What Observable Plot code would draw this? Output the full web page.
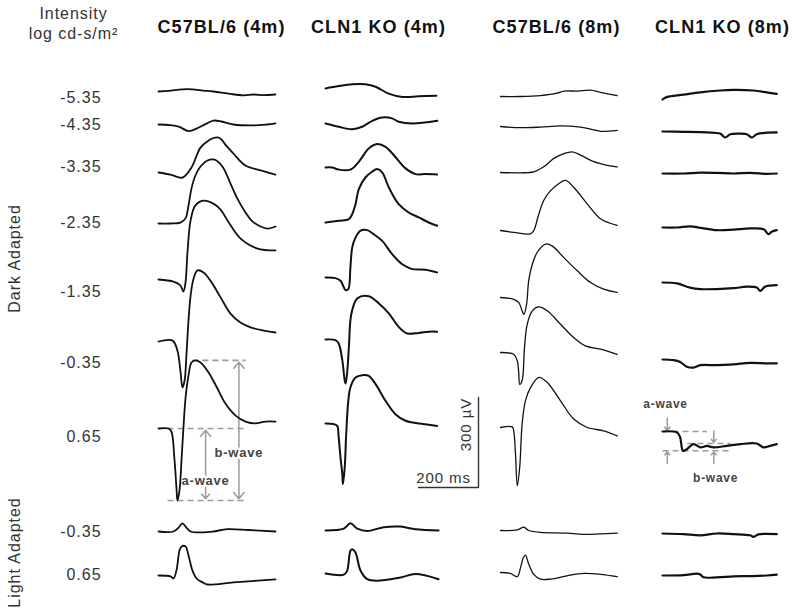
<!DOCTYPE html>
<html><head><meta charset="utf-8">
<script src="https://cdn.jsdelivr.net/npm/d3@7"></script>
<script src="https://cdn.jsdelivr.net/npm/@observablehq/plot@0.6"></script>
<style>
html,body{margin:0;padding:0;background:#fff;}
#chart svg text{letter-spacing:0.06em;}
</style></head>
<body><div id="chart"></div>
<script>
// ---------- data ----------
const groups = ["C57BL/6 (4m)", "CLN1 KO (4m)", "C57BL/6 (8m)", "CLN1 KO (8m)"];
const intensities = ["-5.35", "-4.35", "-3.35", "-2.35", "-1.35", "-0.35", "0.65", "-0.35", "0.65"];
const adaptation = ["Dark Adapted", "Light Adapted"];
const intensityTitle = ["Intensity", "log cd-s/m²"];
const scaleBarMs = 200, scaleBarUv = 300;
const scaleLabels = ["200 ms", "300 µV"];
const waveLabels = ["a-wave", "b-wave"];

// each trace: [time ms, amplitude µV relative to pre-flash baseline]
const wt4m = [
  [[0,0],[33,2],[97,8],[150,3],[183,0],[233,-7],[283,-13],[317,-10],[350,-12],[390,-10]],
  [[0,0],[40,-2],[70,-8],[100,-22],[130,-12],[160,3],[183,13],[210,10],[250,0],[317,-3],[360,0],[390,4]],
  [[0,0],[40,-7],[80,-17],[110,17],[140,83],[167,107],[183,115],[197,117],[210,110],[223,93],[250,63],[290,23],[340,7],[390,-7]],
  [[0,0],[40,0],[73,3],[90,17],[100,60],[110,117],[123,160],[140,190],[163,210],[187,213],[213,190],[240,133],[263,83],[290,37],[313,7],[340,-10],[363,-17],[390,-10]],
  [[0,0],[50,-7],[73,-20],[83,-40],[90,-10],[97,97],[107,197],[123,247],[150,263],[183,253],[207,233],[230,197],[273,137],[330,103],[390,97]],
  [[0,0],[47,3],[63,-30],[73,-97],[80,-153],[87,-130],[93,-47],[100,70],[107,153],[117,210],[130,237],[150,230],[173,203],[207,147],[240,93],[273,63],[307,47],[347,37],[390,30]],
  [[0,0],[33,0],[43,-10],[53,-100],[60,-200],[63,-240],[70,-207],[77,-100],[83,0],[90,100],[100,177],[110,220],[123,227],[140,220],[167,187],[193,140],[223,83],[257,43],[290,23],[323,17],[357,23],[390,23]],
  [[0,0],[50,0],[67,13],[80,27],[93,13],[107,0],[150,-3],[183,0],[230,8],[300,5],[390,0]],
  [[0,0],[40,-3],[50,-10],[60,17],[70,83],[77,97],[90,97],[100,67],[113,17],[127,-10],[147,-23],[163,-30],[250,-23],[390,-13]]
];
const ko4m = [
  [[0,0],[44,8],[89,14],[133,14],[167,6],[210,-17],[257,-28],[310,-26],[370,-24]],
  [[0,0],[44,-11],[89,-19],[122,-11],[156,9],[189,20],[222,17],[244,6],[289,0],[373,9]],
  [[0,0],[22,0],[44,-7],[83,-7],[111,19],[144,63],[172,78],[200,69],[228,41],[267,-3],[300,-22],[333,-22],[372,-23]],
  [[0,0],[44,6],[78,11],[89,28],[100,61],[111,111],[133,150],[156,170],[172,178],[189,167],[211,117],[244,61],[278,33],[311,17],[344,0],[372,-11]],
  [[0,0],[33,-2],[50,-11],[67,-42],[76,-39],[83,33],[89,100],[100,133],[117,156],[139,158],[161,144],[189,122],[222,78],[256,44],[289,28],[333,26],[372,17]],
  [[0,0],[33,-2],[44,-13],[56,-69],[64,-136],[67,-147],[72,-113],[78,-24],[83,64],[89,98],[106,137],[144,144],[178,120],[211,87],[244,42],[272,20],[311,22],[344,26],[372,26]],
  [[0,0],[28,-2],[39,-8],[44,-47],[50,-113],[56,-169],[58,-202],[64,-147],[69,-36],[76,76],[83,120],[100,153],[122,161],[144,159],[167,131],[200,76],[233,31],[267,9],[311,0],[344,-4],[372,-8]],
  [[0,0],[61,6],[83,24],[106,6],[139,-2],[194,11],[250,13],[300,4],[377,0]],
  [[0,0],[61,-4],[72,9],[83,76],[89,81],[100,70],[117,9],[139,-19],[172,-24],[250,-13],[300,-2],[377,-19]]
];
const wt8m = [
  [[0,0],[67,0],[133,3],[189,11],[211,18],[256,18],[300,21],[333,14],[389,3]],
  [[0,0],[67,-4],[133,-2],[200,2],[267,-2],[311,-11],[333,-16],[389,-13]],
  [[0,0],[67,-1],[111,2],[144,19],[178,47],[211,63],[239,69],[267,58],[311,36],[356,24],[389,19]],
  [[0,0],[44,-6],[100,-11],[111,0],[128,56],[144,100],[167,133],[194,156],[217,167],[244,144],[289,89],[333,39],[389,17]],
  [[0,0],[44,-6],[61,-17],[72,-44],[78,-56],[87,-22],[94,56],[106,111],[122,150],[150,178],[172,172],[211,133],[256,89],[300,50],[344,28],[389,17]],
  [[0,0],[44,-6],[56,-28],[61,-72],[64,-106],[72,-94],[80,17],[89,94],[106,139],[128,152],[156,139],[200,94],[244,50],[283,22],[333,11],[389,-6]],
  [[0,0],[39,2],[44,-11],[50,-89],[56,-194],[64,-133],[72,11],[83,89],[100,133],[128,167],[156,150],[200,89],[244,28],[289,0],[344,-11],[389,-28]],
  [[0,0],[56,2],[78,11],[94,0],[133,-6],[222,-9],[289,-13],[333,-11],[389,-9]],
  [[0,0],[33,-3],[56,-14],[67,17],[76,50],[83,58],[94,28],[111,-6],[133,-22],[167,-22],[222,-11],[278,-3],[333,-6],[389,-14]]
];
const ko8m = [
  [[0,0],[14,8],[70,16],[126,24],[192,30],[237,32],[303,30],[348,24],[381,19]],
  [[0,0],[70,-1],[148,-3],[192,-7],[209,-20],[226,-9],[259,-7],[281,-9],[298,-20],[314,-9],[348,-4],[381,-3]],
  [[0,0],[70,0],[126,3],[181,2],[237,0],[292,2],[348,-1],[381,0]],
  [[0,0],[48,0],[92,4],[126,-1],[181,-9],[237,-7],[292,-3],[337,-6],[353,-22],[364,-14],[381,-9]],
  [[0,0],[48,-3],[92,-17],[126,-22],[181,-22],[237,-19],[281,-14],[314,-17],[326,-28],[342,-14],[381,-9]],
  [[0,0],[37,-2],[59,-8],[81,-24],[103,-27],[126,-19],[181,-19],[237,-16],[292,-11],[348,-13],[381,-13]],
  [[0,0],[48,-3],[59,-20],[68,-64],[81,-59],[103,-42],[126,-53],[148,-48],[170,-53],[214,-48],[259,-42],[314,-40],[337,-53],[359,-48],[381,-42]],
  [[0,0],[70,-2],[126,-6],[181,0],[237,-2],[292,-6],[303,-11],[320,-3],[381,-2]],
  [[0,0],[70,1],[114,6],[126,3],[137,-6],[181,-6],[237,-3],[292,-2],[348,0],[381,3]]
];
const columns = [wt4m, ko4m, wt8m, ko8m];

// ---------- layout (pixels) ----------
const W = 800, H = 614;
const K = 0.3;                       // px per ms and px per µV
const colLeft = [158, 325, 500, 662];
const colCenter = [221, 378, 556, 722];
const rowBase = [
  [91,124,172,223,279,341,428,531,575],
  [88,123,167,222,277,339,423,530,573],
  [96,126,172,230,297,352,427,530,572],
  [99,131,173,227,282,359,431,533,575]
];
const labelY = [97,124,166,222,291,362,436,531,574];
const adaptY = [258, 552];
const widths = [1.8, 2, 1.3, 2.2];
const xo = c => colLeft[c] / K;
const yo = (c, r) => (H - rowBase[c][r]) / K;
const px = v => v / K;               // pixel position -> scale units (x)
const py = v => (H - v) / K;         // pixel position -> scale units (y)

const pts = [];
columns.forEach((col, c) => col.forEach((tr, r) => tr.forEach(([t, v]) =>
  pts.push({c, key: c + "-" + r, x: xo(c) + t, y: yo(c, r) + v}))));

// annotation derived from the 0.65 dark-adapted traces
const A1 = wt4m[6], c1 = 0, r1 = 6;
const trough1 = d3.min(A1, d => d[1]), peak1 = d3.max(A1, d => d[1]);
const A4 = ko8m[6], c4 = 3, r4 = 6;
const iT4 = d3.minIndex(A4, d => d[1]);
const trough4 = A4[iT4][1], peak4 = d3.max(A4.slice(iT4 + 1), d => d[1]);

const X1 = t => xo(c1) + t, Y1 = v => yo(c1, r1) + v;
const X4 = t => xo(c4) + t, Y4 = v => yo(c4, r4) + v;

const dashed = [
  {x1: X1(30), x2: X1(297), y1: Y1(0), y2: Y1(0)},
  {x1: X1(30), x2: X1(297), y1: Y1(trough1), y2: Y1(trough1)},
  {x1: X1(113), x2: X1(290), y1: Y1(peak1), y2: Y1(peak1)},
  {x1: X4(0), x2: X4(148), y1: Y4(0), y2: Y4(0)},
  {x1: X4(0), x2: X4(220), y1: Y4(trough4), y2: Y4(trough4)},
  {x1: X4(83), x2: X4(227), y1: Y4(peak4), y2: Y4(peak4)}
];
const arrows = [
  {x1: X1(157), x2: X1(157), y1: Y1(-173), y2: Y1(-6)},
  {x1: X1(157), x2: X1(157), y1: Y1(-173), y2: Y1(trough1 + 6)},
  {x1: X1(268), x2: X1(268), y1: Y1(-80), y2: Y1(peak1 - 6)},
  {x1: X1(268), x2: X1(268), y1: Y1(-80), y2: Y1(trough1 + 6)},
  {x1: X4(16), x2: X4(16), y1: Y4(45), y2: Y4(4)},
  {x1: X4(16), x2: X4(16), y1: Y4(trough4 - 42), y2: Y4(trough4 - 4)},
  {x1: X4(171), x2: X4(171), y1: Y4(peak4 + 42), y2: Y4(peak4 + 4)},
  {x1: X4(171), x2: X4(171), y1: Y4(trough4 - 42), y2: Y4(trough4 - 4)}
];
const waveText1 = [
  {text: waveLabels[0], x: X1(157), y: Y1(-173)},
  {text: waveLabels[1], x: X1(268), y: Y1(-80)}
];
const waveText4 = [
  {text: waveLabels[0], x: X4(10), y: Y4(90)},
  {text: waveLabels[1], x: X4(177), y: Y4(trough4 - 93)}
];

const sbX = px(478), sbY = py(487);
const scaleBar = [[sbX - scaleBarMs, sbY], [sbX, sbY], [sbX, sbY + scaleBarUv]];

const chart = Plot.plot({
  width: W, height: H, margin: 0,
  x: {domain: [0, W / K], axis: null},
  y: {domain: [0, H / K], axis: null},
  style: {fontFamily: "'Liberation Sans', Arial, Helvetica, sans-serif", background: "white", color: "#222"},
  marks: [
    Plot.link(dashed, {x1: "x1", x2: "x2", y1: "y1", y2: "y2", stroke: "#9a9a9a", strokeWidth: 1.6, strokeDasharray: "6,4"}),
    Plot.arrow(arrows, {x1: "x1", x2: "x2", y1: "y1", y2: "y2", stroke: "#9a9a9a", strokeWidth: 1.5, headLength: 8, headAngle: 80}),
    Plot.text(waveText1, {x: "x", y: "y", text: "text", fontSize: 13, fontWeight: "bold", fill: "#444", stroke: "white", strokeWidth: 5, paintOrder: "stroke"}),
    Plot.text(waveText4, {x: "x", y: "y", text: "text", fontSize: 12, fontWeight: "bold", fill: "#444"}),
    ...groups.map((g, c) => Plot.line(pts.filter(d => d.c === c), {x: "x", y: "y", z: "key", stroke: "#111", strokeWidth: widths[c], curve: "catmull-rom"})),
    Plot.line(scaleBar, {x: d => d[0], y: d => d[1], stroke: "#333", strokeWidth: 1.4}),
    Plot.text([scaleLabels[0]], {x: px(443), y: py(478), text: d => d, fontSize: 15, fill: "#333"}),
    Plot.text([scaleLabels[1]], {x: px(466), y: py(424), text: d => d, fontSize: 15, fill: "#333", rotate: -90}),
    Plot.text(groups, {x: (d, i) => px(colCenter[i]), y: py(27), text: d => d, fontSize: 18, fontWeight: "bold", fill: "#111"}),
    Plot.text(intensityTitle, {x: px(73), y: (d, i) => py([13, 33][i]), text: d => d, fontSize: 16, fill: "#333"}),
    Plot.text(intensities, {x: px(101), y: (d, i) => py(labelY[i]), text: d => d, fontSize: 16, fill: "#333", textAnchor: "end"}),
    Plot.text(adaptation, {x: px(14), y: (d, i) => py(adaptY[i]), text: d => d, fontSize: 16, fill: "#333", rotate: -90})
  ]
});
document.getElementById("chart").appendChild(chart);
</script></body></html>
